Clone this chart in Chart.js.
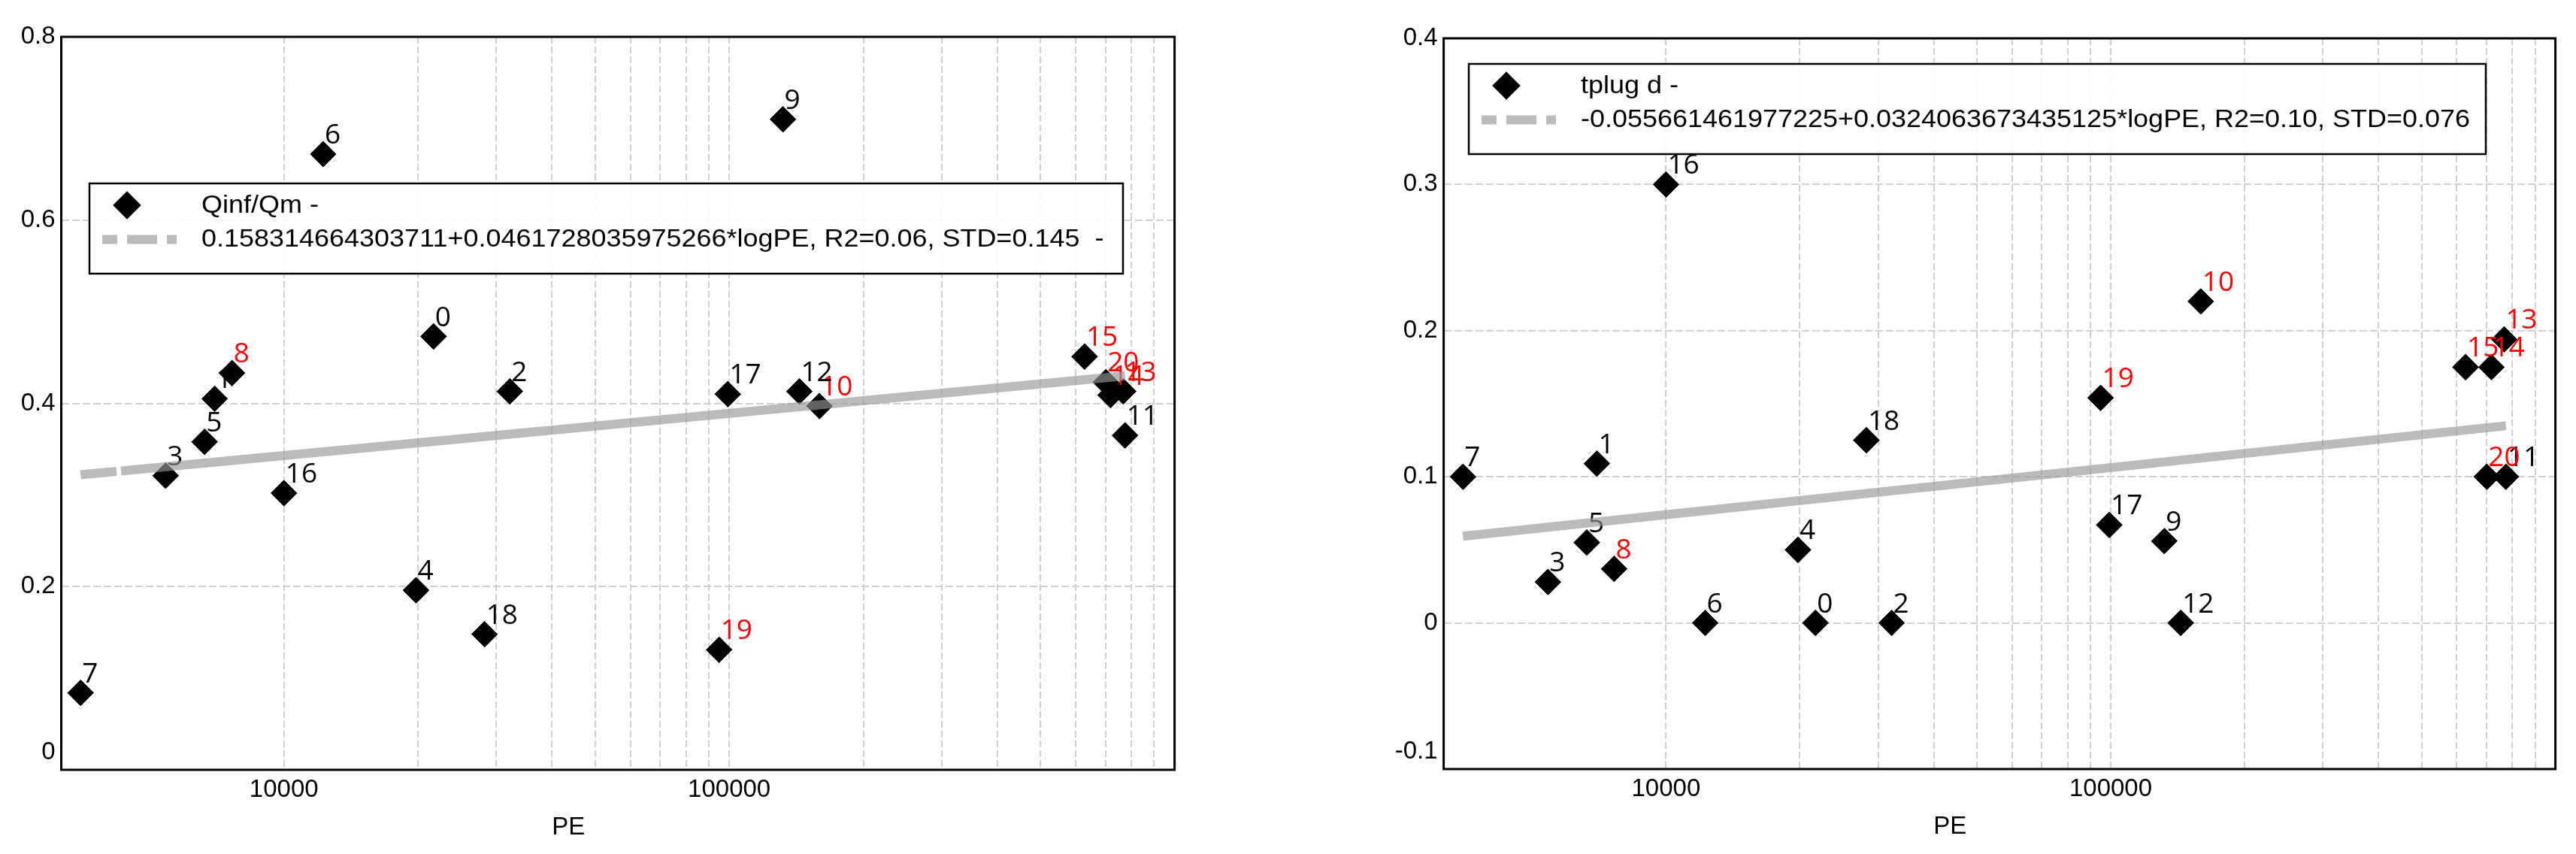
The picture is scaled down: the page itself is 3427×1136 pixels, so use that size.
<!DOCTYPE html>
<html>
<head>
<meta charset="utf-8">
<script src="https://cdn.jsdelivr.net/npm/chart.js@4.4.0/dist/chart.umd.min.js"></script>
<style>
html,body{margin:0;padding:0;background:#fff;width:3427px;height:1136px;overflow:hidden;}
canvas{position:absolute;top:0;}
#c1{left:0;}
#c2{left:1713px;}
</style>
</head>
<body>
<canvas id="c1" width="1713" height="1136"></canvas>
<canvas id="c2" width="1714" height="1136"></canvas>
<script>
// ---------- data ----------
const pointIds = [0,1,2,3,4,5,6,7,8,9,10,11,12,13,14,15,16,17,18,19,20];
const pe      = [21680, 6990, 32160, 5425, 19800, 6635, 12250, 3495, 7645, 132000, 159400, 774000, 143700, 767000, 718000, 628000, 10000, 99250, 28220, 94900, 701000];
const qinfQm  = [0.473, 0.405, 0.413, 0.321, 0.196, 0.358, 0.672, 0.084, 0.433, 0.710, 0.397, 0.365, 0.413, 0.413, 0.409, 0.451, 0.302, 0.410, 0.148, 0.131, 0.423];
const tplugD  = [0.000, 0.109, 0.000, 0.028, 0.050, 0.055, 0.000, 0.100, 0.037, 0.056, 0.220, 0.100, 0.000, 0.194, 0.175, 0.175, 0.300, 0.067, 0.125, 0.154, 0.100];
const redIds  = [8, 10, 13, 14, 15, 19, 20];
const trendPE    = [3495, 774000];
const trendQinf  = [0.322, 0.430];
const trendTplug = [0.0593, 0.1349];
const xTickValues = [10000,20000,30000,40000,50000,60000,70000,80000,90000,100000,200000,300000,400000,500000,600000,700000,800000,900000];
const xTickLabels = {10000: '10000', 100000: '100000'};
const xTitle = 'PE';
const leftLegend  = ['Qinf/Qm -', '0.158314664303711+0.0461728035975266*logPE, R2=0.06, STD=0.145  -'];
const rightLegend = ['tplug d -', '-0.055661461977225+0.0324063673435125*logPE, R2=0.10, STD=0.076'];

// ---------- styling ----------
const FONT = '"Liberation Sans", Arial, Helvetica, sans-serif';
const LABEL_FONT = '"Open Sans", "Noto Sans", sans-serif';
const GRID = '#d0d0d0';
Chart.defaults.font.family = FONT;
Chart.defaults.color = '#000';

function pts(xs, ys) { return xs.map((x, i) => ({x: x, y: ys[i]})); }

const frameAndLabels = {
  id: 'frameAndLabels',
  beforeDatasetsDraw(chart) {
    const ca = chart.chartArea, ctx = chart.ctx;
    ctx.save();
    ctx.lineWidth = 3;
    ctx.strokeStyle = '#000';
    ctx.strokeRect(ca.left, ca.top, ca.right - ca.left, ca.bottom - ca.top);
    ctx.restore();
  },
  afterDatasetDraw(chart, args) {
    if (args.index !== 0) return;
    const ctx = chart.ctx;
    const meta = args.meta;
    ctx.save();
    ctx.font = '37px ' + LABEL_FONT;
    ctx.textAlign = 'left';
    ctx.textBaseline = 'alphabetic';
    meta.data.forEach((el, i) => {
      el.draw(ctx, chart.chartArea);
      ctx.fillStyle = redIds.includes(pointIds[i]) ? '#ff0000' : '#000000';
      ctx.fillText(String(pointIds[i]), el.x + 2, el.y - 14);
    });
    ctx.restore();
  },
  afterDraw(chart) {
    const ctx = chart.ctx, ca = chart.chartArea;
    const o = chart.options.plugins.frameAndLabels;
    const yScale = chart.scales.y;
    ctx.save();
    ctx.font = '33px ' + FONT;
    ctx.fillStyle = '#000';
    // lowest y tick label, lifted above the frame's bottom edge
    ctx.textAlign = 'right';
    ctx.textBaseline = 'middle';
    ctx.fillText(String(yScale.min), ca.left - 8, ca.bottom - 23);
    // axis title
    ctx.textAlign = 'center';
    ctx.fillText(xTitle, ca.left + 0.4555 * (ca.right - ca.left), ca.bottom + 77);
    ctx.restore();
    // legend box
    const L = ca.left + o.dx, T = ca.top + o.dy, W = o.w, H = 120;
    ctx.save();
    ctx.fillStyle = 'rgba(255,255,255,0.86)';
    ctx.fillRect(L, T, W, H);
    ctx.lineWidth = 2.5;
    ctx.strokeStyle = '#000';
    ctx.strokeRect(L, T, W, H);
    Chart.helpers.drawPoint(ctx, {pointStyle: 'rectRot', radius: 17, borderWidth: 1, rotation: 0}, L + 50, T + 29);
    ctx.fillStyle = '#000';
    ctx.fill();
    ctx.fillStyle = 'rgba(150,150,150,0.65)';
    const sy = T + 74.5 - 6;
    ctx.fillRect(L + 17, sy, 20, 12);
    ctx.fillRect(L + 50, sy, 40, 12);
    ctx.fillRect(L + 103, sy, 13, 12);
    ctx.fillStyle = '#000';
    ctx.font = '33px ' + FONT;
    ctx.textAlign = 'left';
    ctx.textBaseline = 'middle';
    [T + 30, T + 75].forEach((y, k) => {
      ctx.save();
      ctx.translate(L + 149, y);
      ctx.scale(1.09, 1);
      ctx.fillText(o.texts[k], 0, 0);
      ctx.restore();
    });
    ctx.restore();
  }
};

function makeChart(id, values, trendY, yMin, yMax, step, layoutPad, yWidth, xHeight, legendCfg, trendDash) {
  return new Chart(document.getElementById(id), {
    type: 'scatter',
    data: {
      datasets: [
        {
          label: legendCfg.texts[0],
          data: pts(pe, values),
          pointStyle: 'rectRot',
          pointRadius: 17,
          pointHoverRadius: 17,
          backgroundColor: '#000',
          borderColor: '#000',
          borderWidth: 1,
          order: 1
        },
        {
          label: legendCfg.texts[1],
          data: pts(trendPE, trendY),
          showLine: true,
          pointRadius: 0,
          pointHoverRadius: 0,
          borderColor: 'rgba(150,150,150,0.65)',
          backgroundColor: 'rgba(150,150,150,0.65)',
          borderWidth: 12,
          borderCapStyle: 'butt',
          borderDash: trendDash,
          tension: 0,
          order: 0
        }
      ]
    },
    options: {
      responsive: false,
      animation: false,
      devicePixelRatio: 1,
      events: [],
      layout: {padding: layoutPad},
      plugins: {
        legend: {display: false},
        tooltip: {enabled: false},
        frameAndLabels: legendCfg
      },
      scales: {
        x: {
          type: 'logarithmic',
          min: Math.pow(10, 3.5),
          max: 1000000,
          afterBuildTicks: s => { s.ticks = xTickValues.map(v => ({value: v})); },
          afterFit: s => { s.height = xHeight; },
          ticks: {
            autoSkip: false, maxRotation: 0, minRotation: 0, padding: 7,
            font: {size: 33}, color: '#000',
            callback: v => (xTickLabels[v] !== undefined ? xTickLabels[v] : '')
          },
          grid: {color: GRID, lineWidth: 2, drawTicks: false, tickLength: 0},
          border: {display: false, dash: [9, 4]}
        },
        y: {
          min: yMin, max: yMax,
          afterFit: s => { s.width = yWidth; },
          ticks: {
            stepSize: step, padding: 8, font: {size: 33}, color: '#000',
            callback: function (v) { return Math.abs(v - yMin) < 1e-9 ? '' : Chart.Ticks.formatters.numeric.apply(this, arguments); }
          },
          grid: {color: GRID, lineWidth: 2, drawTicks: false, tickLength: 0},
          border: {display: false, dash: [10, 4]}
        }
      }
    },
    plugins: [frameAndLabels]
  });
}

makeChart('c1', qinfQm, trendQinf, 0, 0.8, 0.2,
  {top: 49, right: 150.4, bottom: 0, left: 0}, 81.5, 112,
  {dx: 37.5, dy: 195, w: 1375, texts: leftLegend}, [48, 6, 5000, 1]);

makeChart('c2', tplugD, trendTplug, -0.1, 0.4, 0.1,
  {top: 51, right: 27.4, bottom: 0, left: 0}, 207.6, 113,
  {dx: 33.4, dy: 34, w: 1353, texts: rightLegend}, []);
</script>
</body>
</html>
